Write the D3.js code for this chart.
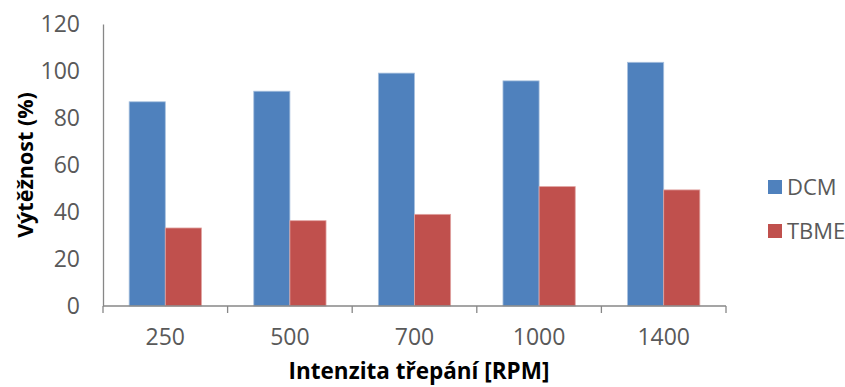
<!DOCTYPE html>
<html>
<head>
<meta charset="utf-8">
<script src="https://cdn.jsdelivr.net/npm/d3@7"></script>
<style>
  html, body { margin: 0; padding: 0; background: #fff; }
  svg { display: block; }
  text { font-family: "Open Sans", Lato, sans-serif; }
</style>
</head>
<body>
<svg id="chart" width="845" height="387"></svg>
<script>
// Extraction yield (%) by shaking speed for two solvents
const categories = ["250", "500", "700", "1000", "1400"];
const seriesNames = ["DCM", "TBME"];
const dcmValues = [86.9, 91.4, 99.1, 95.8, 103.7];
const tbmeValues = [33.2, 36.3, 39.0, 50.8, 49.4];
const yTicks = [0, 20, 40, 60, 80, 100, 120];
const colors = ["#4F81BD", "#C0504D"];
const strokes = ["#A7C0DE", "#E0A3A1"];

const svg = d3.select("#chart");
const margin = { left: 103, top: 24, right: 845 - 726, bottom: 387 - 306 };
const width = 845 - margin.left - margin.right;
const height = 387 - margin.top - margin.bottom;

const g = svg.append("g").attr("transform", `translate(${margin.left},${margin.top})`);

const x0 = d3.scaleBand().domain(categories).range([0, width]).paddingInner(0.42).paddingOuter(0.21);
const x1 = d3.scaleBand().domain(seriesNames).range([0, x0.bandwidth()]);
const y = d3.scaleLinear().domain([0, 120]).range([height, 0]);

const rows = categories.map((c, i) => ({ cat: c, values: [dcmValues[i], tbmeValues[i]] }));

// bars
const groups = g.selectAll("g.grp").data(rows).join("g")
  .attr("class", "grp")
  .attr("transform", d => `translate(${x0(d.cat)},0)`);
groups.selectAll("rect").data(d => d.values.map((v, k) => ({ name: seriesNames[k], v, k })))
  .join("rect")
  .attr("x", d => x1(d.name))
  .attr("y", d => y(d.v))
  .attr("width", x1.bandwidth())
  .attr("height", d => height - y(d.v))
  .attr("fill", d => colors[d.k])
  .attr("stroke", d => strokes[d.k])
  .attr("stroke-width", 0.8);

// y axis
const yAxis = g.append("g").call(d3.axisLeft(y).tickValues(yTicks).tickSize(0).tickPadding(23));
yAxis.select(".domain").attr("stroke", "#878787").attr("stroke-width", 1.3);
yAxis.selectAll("text").attr("fill", "#595959").style("font-size", "23px").style("font-family", "'Open Sans'");

// x axis with ticks at band boundaries
const xAxisG = g.append("g").attr("transform", `translate(0,${height})`);
xAxisG.append("line").attr("x1", 0).attr("x2", width).attr("y1", 0).attr("y2", 0)
  .attr("stroke", "#878787").attr("stroke-width", 1.3);
const step = x0.step();
const boundaries = d3.range(categories.length + 1).map(i => i === 0 ? 0 : (i === categories.length ? width : x0(categories[i]) - x0.paddingInner() * step / 2));
xAxisG.selectAll("line.tk").data(boundaries).join("line")
  .attr("class", "tk")
  .attr("x1", d => d).attr("x2", d => d).attr("y1", 0).attr("y2", 7)
  .attr("stroke", "#878787").attr("stroke-width", 1.3);
xAxisG.selectAll("text.lbl").data(categories).join("text")
  .attr("class", "lbl")
  .attr("x", d => x0(d) + x0.bandwidth() / 2)
  .attr("y", 39)
  .attr("text-anchor", "middle")
  .attr("fill", "#595959")
  .style("font-size", "23px")
  .text(d => d);

// axis titles
svg.append("text")
  .attr("x", 419).attr("y", 379)
  .attr("text-anchor", "middle")
  .attr("fill", "#000")
  .style("font-size", "22.5px").style("font-weight", "bold")
  .text("Intenzita třepání [RPM]");
svg.append("text")
  .attr("transform", "translate(33,165) rotate(-90)")
  .attr("text-anchor", "middle")
  .attr("fill", "#000")
  .style("font-size", "21.5px").style("font-weight", "bold")
  .text("Výtěžnost (%)");

// legend
const legend = svg.append("g").attr("transform", "translate(768,180)");
const li = legend.selectAll("g").data(seriesNames).join("g")
  .attr("transform", (d, i) => `translate(0,${i * 44})`);
li.append("rect").attr("width", 14).attr("height", 14).attr("fill", (d, i) => colors[i]);
li.append("text").attr("x", 19).attr("y", 15).attr("fill", "#595959")
  .style("font-size", "22px").text(d => d);
</script>
</body>
</html>
